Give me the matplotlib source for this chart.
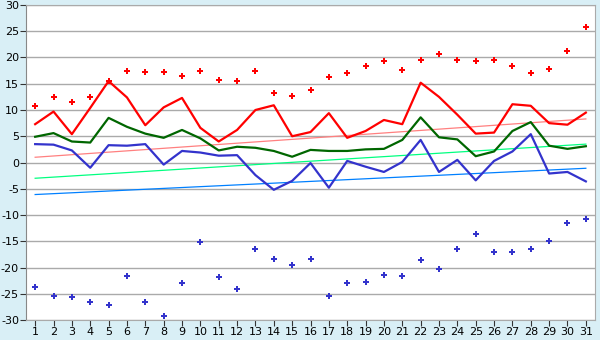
import matplotlib
matplotlib.use("Agg")
import matplotlib.pyplot as plt

plt.rcParams["axes.unicode_minus"] = False

dias = list(range(1, 32))

# temperatura maxima absoluta (puntos rojos)
max_abs = [10.7, 12.4, 11.5, 12.4, 15.5, 17.5, 17.2, 17.2, 16.4, 17.4,
           15.8, 15.5, 17.4, 13.2, 12.6, 13.8, 16.2, 17.0, 18.3, 19.3,
           17.6, 19.6, 20.7, 19.6, 19.3, 19.6, 18.3, 17.0, 17.9, 21.2, 25.8]
# temperatura maxima diaria
t_max = [7.3, 9.7, 5.4, 10.4, 15.5, 12.4, 7.1, 10.5, 12.3, 6.6,
         4.0, 6.2, 10.0, 10.9, 5.0, 5.8, 9.4, 4.7, 6.0, 8.1,
         7.3, 15.2, 12.5, 9.1, 5.5, 5.7, 11.1, 10.8, 7.5, 7.2, 9.5]
# temperatura media diaria
t_med = [4.9, 5.6, 4.0, 3.8, 8.5, 6.8, 5.5, 4.7, 6.2, 4.6,
         2.3, 3.0, 2.8, 2.2, 1.1, 2.4, 2.2, 2.2, 2.5, 2.6,
         4.3, 8.6, 4.8, 4.4, 1.2, 2.1, 6.0, 7.7, 3.2, 2.6, 3.1]
# temperatura minima diaria
t_min = [3.5, 3.4, 2.3, -1.0, 3.3, 3.2, 3.5, -0.4, 2.2, 1.9,
         1.3, 1.4, -2.4, -5.2, -3.5, -0.1, -4.8, 0.3, -0.8, -1.8,
         0.1, 4.3, -1.8, 0.5, -3.4, 0.3, 2.1, 5.4, -2.1, -1.8, -3.6]
# temperatura minima absoluta (puntos azules)
min_abs = [-23.8, -25.5, -25.7, -26.6, -27.2, -21.7, -26.6, -29.3, -23.0, -15.1,
           -21.9, -24.0, -16.5, -18.3, -19.6, -18.4, -25.5, -23.0, -22.8, -21.5,
           -21.7, -18.6, -20.3, -16.5, -13.7, -17.1, -17.1, -16.4, -15.0, -11.6, -10.8]

# lineas de tendencia (dia inicial, dia final)
tend_max = [1.0, 8.3]
tend_med = [-3.0, 3.5]
tend_min = [-6.1, -1.1]

fondo = "#d9eff6"
fig = plt.figure(figsize=(6, 3.4), dpi=100, facecolor=fondo)
ax = fig.add_axes([0.0433, 0.0588, 0.9484, 0.9265])
ax.set_facecolor("white")

extremos = [dias[0], dias[-1]]
ax.plot(extremos, tend_max, color="#ff8080", lw=0.9, zorder=2)
ax.plot(extremos, tend_med, color="#00ff80", lw=0.9, zorder=2)
ax.plot(extremos, tend_min, color="#0080ff", lw=0.9, zorder=2)

ax.plot(dias, t_max, color="#ff0000", lw=1.6, zorder=3)
ax.plot(dias, t_med, color="#006600", lw=1.6, zorder=3)
ax.plot(dias, t_min, color="#3333cc", lw=1.6, zorder=3)

ax.plot(dias, max_abs, ls="none", marker="P", ms=5, color="#ff0000", mew=0, zorder=4)
ax.plot(dias, min_abs, ls="none", marker="P", ms=5, color="#3333cc", mew=0, zorder=4)

ax.set_xlim(0.5, 31.5)
ax.set_ylim(-30, 30)
ax.set_xticks(dias)
ax.set_yticks(range(-30, 31, 5))
ax.grid(axis="y", color="#aaaaaa", lw=1)
ax.set_axisbelow(True)

for lado in ["top", "right", "bottom"]:
    ax.spines[lado].set_color("#aaaaaa")
ax.spines["left"].set_color("#888888")
ax.tick_params(axis="both", labelsize=8, length=4, color="#333333", pad=1)

fig.savefig("out.png", dpi=100, facecolor=fondo)
